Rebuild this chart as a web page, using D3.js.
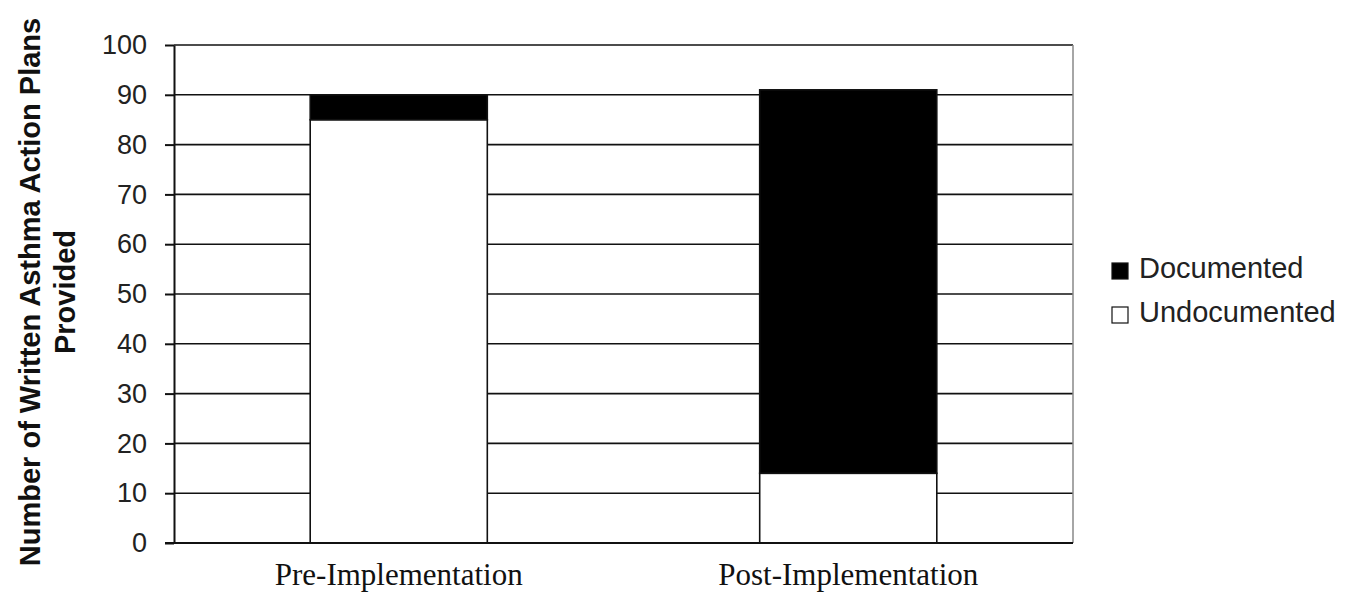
<!DOCTYPE html>
<html>
<head lang="en">
    <meta charset="UTF-8">
    <title>Written Asthma Action Plans</title>
    <script src="https://cdn.jsdelivr.net/npm/d3@7"></script>
    <style>
        body { margin: 0; background: #fff; }
        svg { display: block; }
    </style>
</head>
<body>
<script>
    var categories = ["Pre-Implementation", "Post-Implementation"];
    var documented = [5, 77];
    var undocumented = [85, 14];
    var yTicks = [0, 10, 20, 30, 40, 50, 60, 70, 80, 90, 100];
    var seriesNames = ["Documented", "Undocumented"];
    var seriesColors = ["#000", "#fff"];

    var width = 1350, height = 592;
    var mLeft = 174, mRight = 1073, mTop = 45, mBottom = 543;

    var svg = d3.select("body").append("svg")
            .attr("width", width)
            .attr("height", height);

    var y = d3.scaleLinear().domain([0, 100]).range([mBottom, mTop]);
    var x = d3.scaleBand().domain(categories).range([mLeft, mRight])
            .paddingInner(0.606).paddingOuter(0.303);

    // gridlines
    svg.append("g").selectAll("line")
            .data(yTicks.filter(function(d){ return d > 0; }))
            .enter().append("line")
            .attr("x1", mLeft).attr("x2", mRight)
            .attr("y1", function(d){ return y(d); })
            .attr("y2", function(d){ return y(d); })
            .attr("stroke", "#111")
            .attr("stroke-width", 1.6);

    // right border
    svg.append("line")
            .attr("x1", mRight).attr("x2", mRight)
            .attr("y1", y(100)).attr("y2", y(0))
            .attr("stroke", "#888")
            .attr("stroke-width", 1.5);

    // stacked bars
    var stack = categories.map(function(c, i){
        return [
            {key: "Undocumented", y0: 0, y1: undocumented[i], fill: "#fff"},
            {key: "Documented", y0: undocumented[i], y1: undocumented[i] + documented[i], fill: "#000"}
        ];
    });
    var gBars = svg.append("g");
    categories.forEach(function(c, i){
        gBars.selectAll(null)
                .data(stack[i])
                .enter().append("rect")
                .attr("x", x(c))
                .attr("width", x.bandwidth())
                .attr("y", function(d){ return y(d.y1); })
                .attr("height", function(d){ return y(d.y0) - y(d.y1); })
                .attr("fill", function(d){ return d.fill; })
                .attr("stroke", "#111")
                .attr("stroke-width", 1.6);
    });

    // y axis
    var gy = svg.append("g")
            .attr("transform", "translate(" + mLeft + ",0)")
            .call(d3.axisLeft(y).tickValues(yTicks).tickSize(9).tickPadding(18).tickSizeOuter(0));
    gy.selectAll("text")
            .attr("font-family", "Liberation Sans, Arial, sans-serif")
            .attr("font-size", "27px")
            .attr("fill", "#222");
    gy.selectAll("line, path").attr("stroke", "#111").attr("stroke-width", 2);

    // x axis
    var gx = svg.append("g")
            .attr("transform", "translate(0," + mBottom + ")")
            .call(d3.axisBottom(x).tickSize(0).tickPadding(20).tickSizeOuter(0));
    gx.select(".domain")
            .attr("d", "M" + (mLeft - 9) + ",0H" + mRight)
            .attr("stroke", "#111").attr("stroke-width", 2);
    gx.selectAll("text")
            .attr("font-family", "Liberation Serif, Times New Roman, serif")
            .attr("font-size", "31px")
            .attr("fill", "#111")
            .attr("dy", "0.71em");

    // y title
    var title = svg.append("text")
            .attr("transform", "translate(40,292) rotate(-90)")
            .attr("text-anchor", "middle")
            .attr("font-family", "Liberation Sans, Arial, sans-serif")
            .attr("font-weight", "bold")
            .attr("font-size", "29px")
            .attr("fill", "#111");
    title.append("tspan").attr("x", 0).attr("y", 0).text("Number of Written Asthma Action Plans");
    title.append("tspan").attr("x", 0).attr("y", 35).text("Provided");

    // legend
    var legend = svg.append("g").selectAll("g")
            .data(seriesNames)
            .enter().append("g")
            .attr("transform", function(d, i){ return "translate(1112," + (263 + i * 44) + ")"; });
    legend.append("rect")
            .attr("width", 16).attr("height", 16)
            .attr("fill", function(d, i){ return seriesColors[i]; })
            .attr("stroke", "#111")
            .attr("stroke-width", 1.2);
    legend.append("text")
            .attr("x", 27).attr("y", 15)
            .attr("font-family", "Liberation Sans, Arial, sans-serif")
            .attr("font-size", "29px")
            .attr("fill", "#222")
            .text(function(d){ return d; });
</script>
</body>
</html>
